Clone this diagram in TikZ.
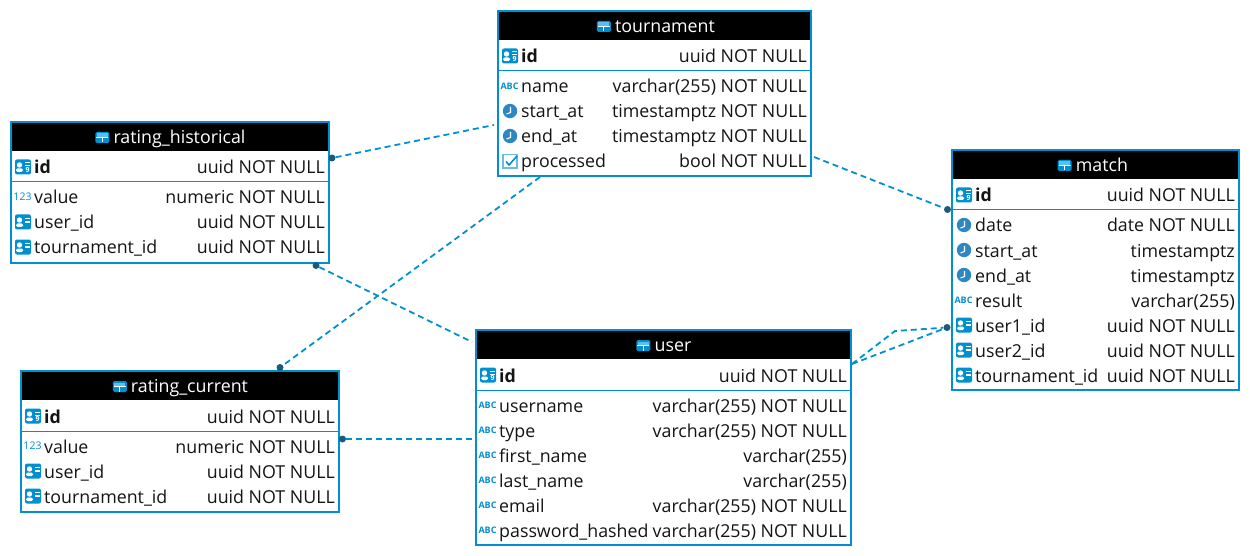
\documentclass[tikz,border=0pt]{standalone}
\usepackage{fontspec}
\setmainfont{Open Sans}
\definecolor{erblue}{RGB}{0,144,208}
\definecolor{erlight}{RGB}{90,190,240}
\definecolor{erclock}{RGB}{45,135,195}
\definecolor{erdot}{RGB}{25,90,125}
\definecolor{ertext}{RGB}{20,20,20}

\tikzset{
  tablebox/.style = {fill = white, anchor = north west, inner sep = 0pt, outer sep = 0pt},
  tabletitle/.style = {text = white, font = \fontsize{17.8}{20}\selectfont, anchor = base, inner sep = 0pt},
  colname/.style = {text = ertext, font = \fontsize{17.8}{20}\selectfont, anchor = base west, inner sep = 0pt},
  coltype/.style = {text = ertext, font = \fontsize{17.8}{20}\selectfont, anchor = base east, inner sep = 0pt},
  fk/.style = {draw = erblue, line width = 1.8pt, dash pattern = on 6pt off 4pt},
  fkdot/.style = {circle, fill = erdot, inner sep = 0pt, minimum size = 7pt},
  sepline/.style = {draw = erblue, line width = 1pt},
  border/.style = {draw = erblue, line width = 2pt},
  tableicon/.pic = {
    \fill[erblue, rounded corners = 1.5pt] (-7, -5.5) rectangle (7, 5.5);
    \fill[erlight] (-5.5, -4) rectangle (5.5, -0.8);
    \draw[white, line width = 0.9pt] (-6, 0.3) -- (6, 0.3);
    \draw[white, line width = 0.9pt] (0, 0.3) -- (0, 5);
  },
  pkicon/.pic = {
    \fill[erblue, rounded corners = 2pt] (-8, -7.5) rectangle (8, 7.5);
    \fill[white] (-3.5, -2) circle (2.7);
    \fill[white, rounded corners = 1.5pt] (-7, 5) rectangle (0, 1.5);
    \draw[white, line width = 1pt] (2, -4) -- (7, -4) (2, -1) -- (7, -1);
    \node[white, inner sep = 0pt, font = \fontsize{7}{7}\selectfont\bfseries] (-num) at (4.5, 3) {9};
  },
  fkicon/.pic = {
    \fill[erblue, rounded corners = 2pt] (-8, -7.5) rectangle (8, 7.5);
    \fill[white] (-3.5, -2) circle (2.7);
    \fill[white, rounded corners = 1.5pt] (-7, 5) rectangle (0, 1.5);
    \draw[white, line width = 1.1pt] (2, -3.5) -- (7, -3.5) (2, 0) -- (7, 0);
  },
  abcicon/.pic = {
    \node[erblue, inner sep = 0pt, font = \fontsize{9}{9}\selectfont\bfseries] (-abc) at (-0.5, 0) {ABC};
  },
  numicon/.pic = {
    \node[erblue, inner sep = 0pt, font = \fontsize{10.5}{10}\selectfont] (-num) at (-0.5, -0.5) {123};
  },
  clockicon/.pic = {
    \fill[erclock] (0, 0) circle (7.2);
    \draw[white, line width = 1.1pt] (0.5, -4) -- (0.5, 1.5) -- (-3.5, 3);
  },
  checkicon/.pic = {
    \draw[erblue!60!white, line width = 1.1pt] (-7, -6.5) rectangle (7, 7);
    \draw[erblue, line width = 1.6pt] (-4, 0.5) -- (-1, 4) -- (7, -5);
  },
}

% #1 name, #2 icon, #3 box left, #4 box right, #5 centre y, #6 column, #7 type
\newcommand{\colrow}[7]{
  \pic at (#3 + 12, #5) {#2};
  \node[colname] (#1n) at (#3 + 23, #5 + 7) {#6};
  \node[coltype] (#1t) at (#4 - 4, #5 + 7) {#7};
}

\begin{document}
\begin{tikzpicture}[x = 1pt, y = -1pt]
\useasboundingbox (0, 0) rectangle (1250, 556);

% tables
\node[tablebox, minimum width = 313pt, minimum height = 165pt] (tournament) at (498, 11) {};
\node[tablebox, minimum width = 318pt, minimum height = 141pt] (historical) at (11, 122) {};
\node[tablebox, minimum width = 318pt, minimum height = 141pt] (current) at (21, 371) {};
\node[tablebox, minimum width = 287pt, minimum height = 240pt] (match) at (952, 150) {};
\node[tablebox, minimum width = 375pt, minimum height = 215pt] (user) at (476, 330) {};

\fill (tournament.north west) rectangle ([yshift = -29pt]tournament.north east);
\fill (historical.north west) rectangle ([yshift = -29pt]historical.north east);
\fill (current.north west) rectangle ([yshift = -29pt]current.north east);
\fill (match.north west) rectangle ([yshift = -29pt]match.north east);
\fill (user.north west) rectangle ([yshift = -29pt]user.north east);

\draw[border] (tournament.north west) rectangle (tournament.south east);
\draw[border] (historical.north west) rectangle (historical.south east);
\draw[border] (current.north west) rectangle (current.south east);
\draw[border] (match.north west) rectangle (match.south east);
\draw[border] (user.north west) rectangle (user.south east);

% titles
\node[tabletitle] (tournamenttitle) at (665, 32.5) {tournament};
\node[tabletitle] (historicaltitle) at (179.5, 143.5) {rating\_historical};
\node[tabletitle] (currenttitle) at (189.5, 392.5) {rating\_current};
\node[tabletitle] (matchtitle) at (1102, 171.5) {match};
\node[tabletitle] (usertitle) at (673, 351.5) {user};
\pic at ([xshift = -11pt, yshift = 6pt]tournamenttitle.base west) {tableicon};
\pic at ([xshift = -11pt, yshift = 6pt]historicaltitle.base west) {tableicon};
\pic at ([xshift = -11pt, yshift = 6pt]currenttitle.base west) {tableicon};
\pic at ([xshift = -11pt, yshift = 6pt]matchtitle.base west) {tableicon};
\pic at ([xshift = -11pt, yshift = 6pt]usertitle.base west) {tableicon};

% key separators
\draw[sepline] (498, 71) -- (811, 71);
\draw[sepline] (11, 182) -- (329, 182);
\draw[sepline] (21, 431) -- (339, 431);
\draw[sepline] (952, 210) -- (1239, 210);
\draw[sepline] (476, 390) -- (851, 390);

% tournament
\colrow{ta}{pkicon}{498}{811}{56}{\textbf{id}}{uuid NOT NULL}
\colrow{tb}{abcicon}{498}{811}{86}{name}{varchar(255) NOT NULL}
\colrow{tc}{clockicon}{498}{811}{111}{start\_at}{timestamptz NOT NULL}
\colrow{td}{clockicon}{498}{811}{136}{end\_at}{timestamptz NOT NULL}
\colrow{te}{checkicon}{498}{811}{161}{processed}{bool NOT NULL}

% rating_historical
\colrow{ha}{pkicon}{11}{329}{167}{\textbf{id}}{uuid NOT NULL}
\colrow{hb}{numicon}{11}{329}{197}{value}{numeric NOT NULL}
\colrow{hc}{fkicon}{11}{329}{222}{user\_id}{uuid NOT NULL}
\colrow{hd}{fkicon}{11}{329}{247}{tournament\_id}{uuid NOT NULL}

% rating_current
\colrow{ca}{pkicon}{21}{339}{416}{\textbf{id}}{uuid NOT NULL}
\colrow{cb}{numicon}{21}{339}{446}{value}{numeric NOT NULL}
\colrow{cc}{fkicon}{21}{339}{471}{user\_id}{uuid NOT NULL}
\colrow{cd}{fkicon}{21}{339}{496}{tournament\_id}{uuid NOT NULL}

% match
\colrow{ma}{pkicon}{952}{1239}{195}{\textbf{id}}{uuid NOT NULL}
\colrow{mb}{clockicon}{952}{1239}{225}{date}{date NOT NULL}
\colrow{mc}{clockicon}{952}{1239}{250}{start\_at}{timestamptz}
\colrow{md}{clockicon}{952}{1239}{275}{end\_at}{timestamptz}
\colrow{me}{abcicon}{952}{1239}{300}{result}{varchar(255)}
\colrow{mf}{fkicon}{952}{1239}{325}{user1\_id}{uuid NOT NULL}
\colrow{mg}{fkicon}{952}{1239}{350}{user2\_id}{uuid NOT NULL}
\colrow{mh}{fkicon}{952}{1239}{375}{tournament\_id}{uuid NOT NULL}

% user
\colrow{ua}{pkicon}{476}{851}{375}{\textbf{id}}{uuid NOT NULL}
\colrow{ub}{abcicon}{476}{851}{405}{username}{varchar(255) NOT NULL}
\colrow{uc}{abcicon}{476}{851}{430}{type}{varchar(255) NOT NULL}
\colrow{ud}{abcicon}{476}{851}{455}{first\_name}{varchar(255)}
\colrow{ue}{abcicon}{476}{851}{480}{last\_name}{varchar(255)}
\colrow{uf}{abcicon}{476}{851}{505}{email}{varchar(255) NOT NULL}
\colrow{ug}{abcicon}{476}{851}{530}{password\_hashed}{varchar(255) NOT NULL}

% connectors
\node[fkdot] (historicaldot) at (332, 158) {};
\node[fkdot] (historicaldotb) at (316, 265.5) {};
\node[fkdot] (currentdot) at (280, 367.5) {};
\node[fkdot] (currentdotb) at (342.5, 439) {};
\node[fkdot] (matchdot) at (947.5, 209.5) {};
\node[fkdot] (matchdotb) at (947, 327.5) {};
\coordinate (tournamentw) at (494, 125);
\coordinate (tournamente) at (814, 157);
\coordinate (tournaments) at (540, 177);
\coordinate (userw) at (472, 342);
\coordinate (userwb) at (476, 439);
\coordinate (usere) at (852, 364);
\coordinate (userbend) at (895, 331);

\draw[fk] (historicaldot) -- (tournamentw);
\draw[fk] (tournamente) -- (matchdot);
\draw[fk] (tournaments) -- (currentdot);
\draw[fk] (historicaldotb) -- (userw);
\draw[fk] (currentdotb) -- (userwb);
\draw[fk] (usere) -- (userbend) -- (matchdotb);
\draw[fk] (usere) -- (matchdotb);

\end{tikzpicture}
\end{document}
